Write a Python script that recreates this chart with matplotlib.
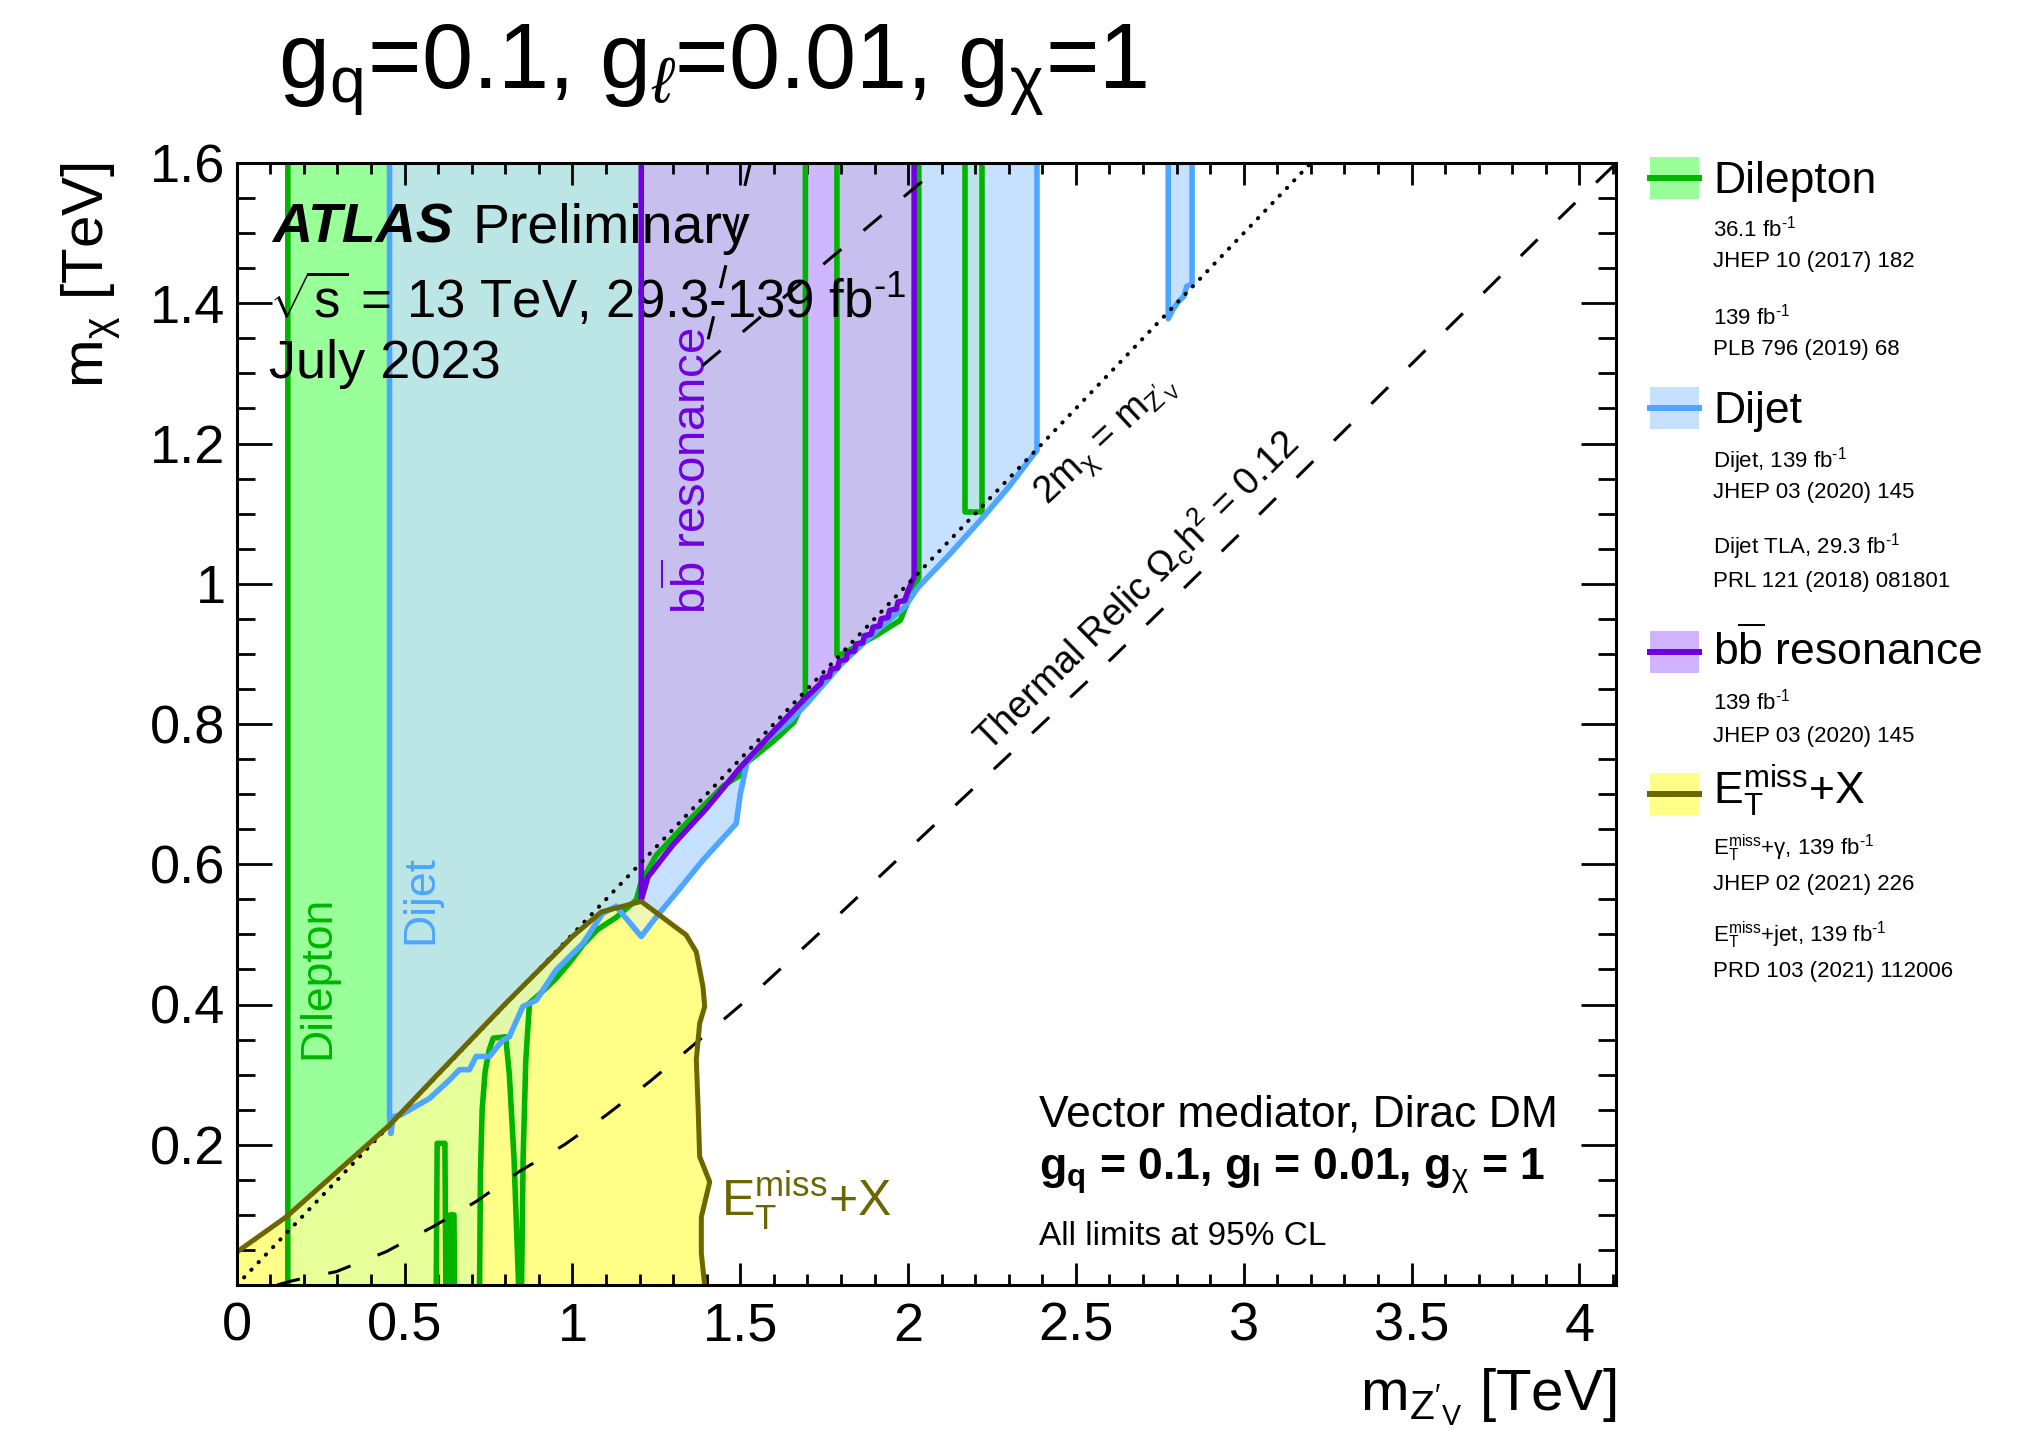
import numpy as np
import matplotlib
matplotlib.use("Agg")
import matplotlib.pyplot as plt
from matplotlib.path import Path
from matplotlib.patches import Rectangle
from matplotlib.lines import Line2D
from matplotlib.ticker import MultipleLocator

plt.rcParams['font.family'] = ['Liberation Sans', 'DejaVu Sans']
plt.rcParams['mathtext.fontset'] = 'custom'
plt.rcParams['mathtext.rm'] = 'Liberation Sans'
plt.rcParams['mathtext.it'] = 'Liberation Sans:italic'
plt.rcParams['mathtext.bf'] = 'Liberation Sans:bold'

# axis ranges / ticks
xmax, ymax = 4.11, 1.6
xticks = [0, 0.5, 1, 1.5, 2, 2.5, 3, 3.5, 4]
xticklabels = ["0", "0.5", "1", "1.5", "2", "2.5", "3", "3.5", "4"]
yticks = [0, 0.2, 0.4, 0.6, 0.8, 1.0, 1.2, 1.4, 1.6]
yticklabels = ["", "0.2", "0.4", "0.6", "0.8", "1", "1.2", "1.4", "1.6"]

# dilepton exclusion contours (m_Z', m_chi) [TeV]
dil1_x = [0.152, 0.152, 0.594, 0.597, 0.620, 0.623, 0.633, 0.636, 0.647, 0.649, 0.723, 0.726,
          0.731, 0.740, 0.752, 0.764, 0.801, 0.812, 0.826, 0.841, 0.848, 0.853, 0.861, 0.872,
          0.905, 0.951, 0.995, 1.031, 1.075, 1.130, 1.190, 1.205, 1.250, 1.350, 1.450, 1.500,
          1.520, 1.600, 1.659, 1.679, 1.694, 1.694]
dil1_y = [1.65, -0.02, -0.02, 0.202, 0.202, -0.02, -0.02, 0.100, 0.100, -0.02, -0.02, 0.160,
          0.250, 0.305, 0.335, 0.352, 0.354, 0.300, 0.180, -0.02, -0.02, 0.180, 0.320, 0.402,
          0.416, 0.437, 0.462, 0.485, 0.507, 0.524, 0.549, 0.575, 0.613, 0.664, 0.712, 0.727,
          0.745, 0.776, 0.802, 0.822, 0.845, 1.65]
dil2_x = [1.788, 1.788, 1.805, 1.900, 1.977, 2.000, 2.027, 2.032, 2.032]
dil2_y = [1.65, 0.898, 0.900, 0.925, 0.948, 0.975, 1.003, 1.010, 1.65]
dil3_x = [2.171, 2.171, 2.220, 2.220]
dil3_y = [1.65, 1.103, 1.103, 1.65]

# dijet exclusion contours
dij1_x = [0.455, 0.455, 0.459, 0.466, 0.490, 0.574, 0.633, 0.663, 0.693, 0.713, 0.753, 0.792,
          0.812, 0.852, 0.892, 0.951, 1.031, 1.090, 1.130, 1.205, 1.250, 1.309, 1.389, 1.488,
          1.500, 1.520, 1.560, 1.650, 1.700, 1.800, 1.900, 1.990, 2.030, 2.120, 2.220, 2.300,
          2.375, 2.384, 2.384]
dij1_y = [1.65, 0.242, 0.216, 0.240, 0.243, 0.266, 0.292, 0.307, 0.307, 0.326, 0.326, 0.349,
          0.354, 0.397, 0.406, 0.449, 0.487, 0.530, 0.540, 0.497, 0.525, 0.559, 0.606, 0.658,
          0.700, 0.745, 0.770, 0.805, 0.830, 0.885, 0.930, 0.967, 0.995, 1.040, 1.093, 1.138,
          1.185, 1.190, 1.65]
dij2_x = [2.775, 2.775, 2.790, 2.805, 2.822, 2.830, 2.846, 2.846]
dij2_y = [1.65, 1.378, 1.392, 1.402, 1.410, 1.424, 1.428, 1.65]

# bb resonance
bb_x = [1.205, 1.205, 1.225, 1.300, 1.400, 1.500, 1.600, 1.700, 1.740, 1.745, 1.765, 1.770,
        1.790, 1.795, 1.815, 1.820, 1.840, 1.845, 1.865, 1.870, 1.890, 1.895, 1.915, 1.920,
        1.940, 1.945, 1.965, 1.970, 1.990, 2.000, 2.018, 2.018]
bb_y = [1.65, 0.549, 0.582, 0.628, 0.680, 0.738, 0.790, 0.840, 0.858, 0.866, 0.868, 0.878,
        0.880, 0.890, 0.892, 0.902, 0.904, 0.914, 0.916, 0.926, 0.928, 0.938, 0.940, 0.950,
        0.952, 0.962, 0.964, 0.974, 0.976, 0.990, 1.010, 1.65]

# MET+X
met_x = [0.000, 0.147, 0.300, 0.455, 0.600, 0.800, 1.000, 1.086, 1.205, 1.339, 1.369, 1.389,
         1.394, 1.379, 1.369, 1.374, 1.379, 1.409, 1.384, 1.384, 1.394, 1.394]
met_y = [0.047, 0.097, 0.162, 0.228, 0.301, 0.401, 0.497, 0.532, 0.547, 0.499, 0.475, 0.425,
         0.397, 0.373, 0.321, 0.259, 0.183, 0.147, 0.097, 0.045, 0.000, -0.02]

# thermal relic and 2m_chi = m_Z' lines
rel_x = [0.120, 0.157, 0.197, 0.296, 0.445, 0.584, 0.713, 0.842, 0.976, 1.100, 1.230, 1.349,
         1.518, 1.718, 2.608, 2.990, 3.884, 4.110]
rel_y = [0.000, 0.005, 0.0095, 0.019, 0.0475, 0.083, 0.119, 0.162, 0.200, 0.242, 0.290, 0.3375,
         0.406, 0.494, 0.894, 1.072, 1.495, 1.600]
relu_x = [1.530, 1.385, 2.020, 2.107]
relu_y = [1.600, 1.310, 1.565, 1.600]
diag_x = [0.0, 3.2]
diag_y = [0.0, 1.6]

green, green_fill = "#00B400", "#99FF99"
blue, blue_fill = "#4DA6FF", "#C5E1FF"
purple, purple_fill = "#7000E0", "#D0B4FF"
olive, yellow_fill = "#6B6600", "#FFFF88"

W, H = 2029, 1438
fig = plt.figure(figsize=(W / 100, H / 100), dpi=100)
ax = fig.add_axes([236.8 / W, 1 - 1285 / H, 1379.5 / W, 1122 / H])

# fills: pixel grid, colour by which exclusions overlap
nx, ny = 1380, 1122
gx = (np.arange(nx) + 0.5) * xmax / nx
gy = (np.arange(ny) + 0.5) * ymax / ny
GX, GY = np.meshgrid(gx, gy)
pts = np.column_stack([GX.ravel(), GY.ravel()])


def inside(xs, ys):
    v = list(zip(xs, ys))
    v.append(v[0])
    return Path(v).contains_points(pts).reshape(ny, nx)


in_y = inside(met_x + [-0.05, -0.05], met_y + [-0.05, 0.047])
in_g = inside(dil1_x, dil1_y) | inside(dil2_x, dil2_y) | inside(dil3_x, dil3_y)
in_b = inside(dij1_x, dij1_y) | inside(dij2_x, dij2_y)
in_p = inside(bb_x, bb_y)
code = in_y * 1 + in_g * 2 + in_b * 4 + in_p * 8

lut = np.full((16, 3), 255.0)
lut[1] = (255, 255, 136)
lut[2] = (153, 255, 153)
lut[3] = (230, 255, 153)
lut[4] = (197, 225, 255)
lut[5] = (238, 246, 180)
lut[6] = (188, 230, 230)
lut[7] = (226, 246, 172)
lut[8] = (208, 182, 255)
lut[9] = (230, 215, 220)
lut[10] = (199, 192, 238)
lut[11] = (225, 220, 200)
lut[12] = (208, 182, 255)
lut[13] = (230, 215, 220)
lut[14] = (199, 192, 238)
lut[15] = (225, 220, 200)
ax.imshow(lut[code] / 255, extent=(0, xmax, 0, ymax), origin="lower", aspect="auto",
          interpolation="nearest", zorder=0)

# contour lines
lw = 4
ax.plot(dil1_x, dil1_y, color=green, lw=lw, zorder=2)
ax.plot(dil2_x, dil2_y, color=green, lw=lw, zorder=2)
ax.plot(dil3_x, dil3_y, color=green, lw=lw, zorder=2)
ax.plot(dij1_x, dij1_y, color=blue, lw=lw, zorder=3)
ax.plot(dij2_x, dij2_y, color=blue, lw=lw, zorder=3)
ax.plot(bb_x, bb_y, color=purple, lw=lw, zorder=4)
ax.plot(diag_x, diag_y, color="black", lw=2.9, ls=(0, (0.1, 2.5)),
        dash_capstyle="round", zorder=5)
ax.plot(rel_x, rel_y, color="black", lw=2.2, ls=(0, (7.7, 9.5)), zorder=5)
ax.plot(relu_x, relu_y, color="black", lw=2.2, ls=(0, (7.7, 9.5)), zorder=5)
ax.plot(met_x, met_y, color=olive, lw=3.6, zorder=6)

ax.set_xlim(0, xmax)
ax.set_ylim(0, ymax)
ax.set_xticks(xticks)
ax.set_xticklabels(xticklabels)
ax.set_yticks(yticks)
ax.set_yticklabels(yticklabels)
ax.xaxis.set_minor_locator(MultipleLocator(0.1))
ax.yaxis.set_minor_locator(MultipleLocator(0.05))
ax.tick_params(which="both", direction="in", top=True, right=True, width=2)
ax.tick_params(axis="x", which="major", length=16, labelsize=39, pad=12)
ax.tick_params(axis="x", which="minor", length=8)
ax.tick_params(axis="y", which="major", length=25, labelsize=39, pad=8)
ax.tick_params(axis="y", which="minor", length=13)
for s in ax.spines.values():
    s.set_linewidth(2.2)
    s.set_zorder(10)

inv = r"fb$^{\text{-}1}$"

# labels inside the plot
ax.text(0.242, 0.438, "Dilepton", rotation=90, color=green, fontsize=32,
        ha="center", va="center")
ax.text(0.548, 0.550, "Dijet", rotation=90, color=blue, fontsize=32,
        ha="center", va="center")
ax.text(1.354, 1.161, r"b$\overline{\rm b}$ resonance", rotation=90, color=purple,
        fontsize=34, ha="center", va="center")
ax.text(1.443, 0.098, r"E$_{\rm T}^{\rm miss}$+X", color=olive, fontsize=36)
ax.text(2.591, 1.205, r"2m$_{\mathrm{\chi}}$ = m$_{\rm Z'_V}$", rotation=43, fontsize=27,
        ha="center", va="center", rotation_mode="anchor")
ax.text(2.678, 0.991, r"Thermal Relic $\Omega_{\rm c}$h$^2$ = 0.12", rotation=44.5,
        fontsize=27, ha="center", va="center", rotation_mode="anchor")

ax.text(0.0255, 0.9287, "ATLAS", transform=ax.transAxes, fontsize=40,
        fontweight="bold", fontstyle="italic")
ax.text(0.1705, 0.9287, "Preliminary", transform=ax.transAxes, fontsize=40)
ax.text(0.023, 0.862, r"$\sqrt{\rm s}$ = 13 TeV, 29.3-139 " + inv,
        transform=ax.transAxes, fontsize=38)
ax.text(0.023, 0.808, "July 2023", transform=ax.transAxes, fontsize=39)

ax.text(0.5815, 0.141, "Vector mediator, Dirac DM", transform=ax.transAxes, fontsize=32)
ax.text(0.5815, 0.0936, r"g$_{\mathbf{q}}$ = 0.1, g$_{\mathbf{l}}$ = 0.01, g$_{\mathrm{\chi}}$ = 1",
        transform=ax.transAxes, fontsize=32, fontweight="bold")
ax.text(0.5815, 0.0357, "All limits at 95% CL", transform=ax.transAxes, fontsize=24)

# axis titles and header
fig.text(0.7966, 0.0188, r"m$_{\rm Z'_V}$ [TeV]", ha="right", va="baseline", fontsize=42)
fig.text(0.0447, 0.8873, r"m$_{\mathrm{\chi}}$ [TeV]", rotation=90, ha="center", va="top",
         fontsize=42)
fig.text(0.137, 0.9388, r"g$_{\rm q}$=0.1, g$_{\ell}$=0.01, g$_{\mathrm{\chi}}$=1",
         fontsize=66, va="baseline")

# legend on the right
leg_names = ["Dilepton", "Dijet", r"b$\overline{\rm b}$ resonance", r"E$_{\rm T}^{\rm miss}$+X"]
leg_fill = [green_fill, blue_fill, purple_fill, yellow_fill]
leg_line = [green, blue, purple, olive]
leg_refs = [
    ["36.1 " + inv, "JHEP 10 (2017) 182", "139 " + inv, "PLB 796 (2019) 68"],
    ["Dijet, 139 " + inv, "JHEP 03 (2020) 145", "Dijet TLA, 29.3 " + inv,
     "PRL 121 (2018) 081801"],
    ["139 " + inv, "JHEP 03 (2020) 145"],
    [r"E$_{\rm T}^{\rm miss}$+$\mathrm{\gamma}$, 139 " + inv, "JHEP 02 (2021) 226",
     r"E$_{\rm T}^{\rm miss}$+jet, 139 " + inv, "PRD 103 (2021) 112006"],
]
box_top = [157, 387, 631, 773]
name_base = [193, 423, 665, 804]
ref_base = [[237, 267, 324, 355], [467, 498, 553, 587], [710, 742], [855, 890, 942, 977]]

for i in range(4):
    fig.add_artist(Rectangle((1650 / W, 1 - (box_top[i] + 42) / H), 49 / W, 42 / H,
                             transform=fig.transFigure, facecolor=leg_fill[i],
                             edgecolor="none"))
    yl = 1 - (box_top[i] + 21) / H
    fig.add_artist(Line2D([1650 / W, 1699 / W], [yl, yl], transform=fig.transFigure,
                          color=leg_line[i], lw=4.3))
    fig.text(1713 / W, 1 - name_base[i] / H, leg_names[i], fontsize=32, va="baseline")
    for t, b in zip(leg_refs[i], ref_base[i]):
        fig.text(1713 / W, 1 - b / H, t, fontsize=16, va="baseline")

fig.savefig("out.png", dpi=100)
